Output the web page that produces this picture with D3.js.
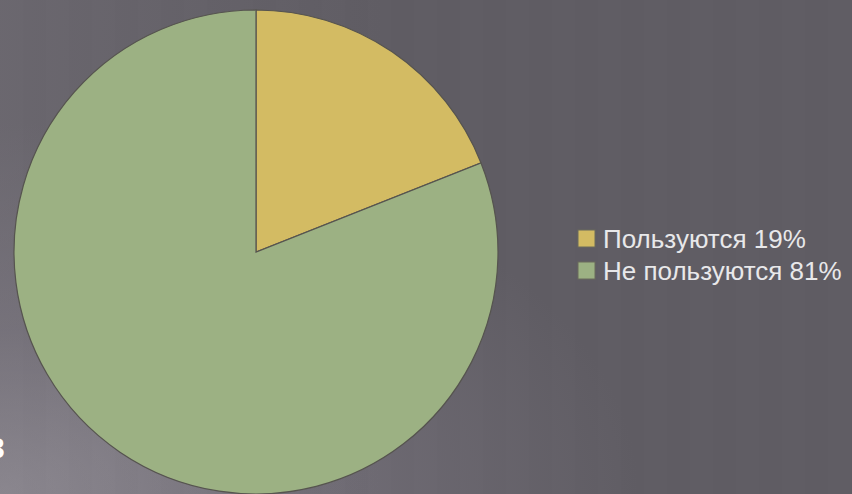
<!DOCTYPE html>
<html>
<head>
<meta charset="utf-8">
<script src="https://cdn.jsdelivr.net/npm/d3@7/dist/d3.min.js"></script>
<style>
html,body{margin:0;padding:0;background:#605d65;overflow:hidden;}
svg{display:block;}
</style>
</head>
<body>
<svg id="chart" width="852" height="494"></svg>
<script>
const categories = ["Пользуются", "Не пользуются"];
const values = [19, 81];
const legendLabels = ["Пользуются 19%", "Не пользуются 81%"];
const colors = ["#d3bb63", "#9cb183"];

const svg = d3.select("#chart");
const W = 852, H = 494;
const defs = svg.append("defs");

const bg = defs.append("radialGradient").attr("id","bg")
  .attr("cx","0").attr("cy","1").attr("r","0.75").attr("gradientUnits","objectBoundingBox");
bg.append("stop").attr("offset","0").attr("stop-color","#938f97");
bg.append("stop").attr("offset","0.45").attr("stop-color","#716d76");
bg.append("stop").attr("offset","1").attr("stop-color","#5f5c63");
svg.append("rect").attr("width",W).attr("height",H).attr("fill","url(#bg)");

const bg2 = defs.append("linearGradient").attr("id","bg2").attr("x1","0").attr("y1","0").attr("x2","1").attr("y2","0");
bg2.append("stop").attr("offset","0").attr("stop-color","#7a767e").attr("stop-opacity","0.4");
bg2.append("stop").attr("offset","0.45").attr("stop-color","#7a767e").attr("stop-opacity","0");
svg.append("rect").attr("width",W).attr("height",H).attr("fill","url(#bg2)");

// faint vertical stripes
const stripeX = d3.range(0, W, 46);
svg.append("g").selectAll("rect").data(stripeX).join("rect")
  .attr("x", d => d).attr("y", 0).attr("width", 23).attr("height", H)
  .attr("fill", "#ffffff").attr("opacity", 0.012);

// cut-off text at bottom left (clipped in the reference as well)
svg.append("text").attr("x", 6).attr("y", 458).attr("text-anchor","end")
  .attr("font-family","'DejaVu Sans', sans-serif").attr("font-weight","bold")
  .attr("font-size", 36).attr("fill","#ffffff").text("з");

const cx = 256, cy = 252, r = 242;
const pie = d3.pie().sort(null).value(d => d);
const arc = d3.arc().innerRadius(0).outerRadius(r);
const g = svg.append("g").attr("transform", `translate(${cx},${cy})`);
g.selectAll("path").data(pie(values)).join("path")
  .attr("d", arc)
  .attr("fill", (d,i) => colors[i])
  .attr("stroke", "#56544f").attr("stroke-width", 1.2);

const lg = svg.append("g").attr("transform","translate(578,230)");
const row = lg.selectAll("g").data(legendLabels).join("g")
  .attr("transform", (d,i) => `translate(0,${i*32})`);
row.append("rect").attr("x",0).attr("y",0).attr("width",17).attr("height",17)
  .attr("fill",(d,i)=>colors[i]).attr("stroke","#6b6a5c").attr("stroke-width",1);
row.append("text").attr("x",25).attr("y",18)
  .attr("font-family","'Liberation Sans', Arial, sans-serif").attr("font-size",26)
  .attr("fill","#e8e8ea").text(d=>d);
</script>
</body>
</html>
